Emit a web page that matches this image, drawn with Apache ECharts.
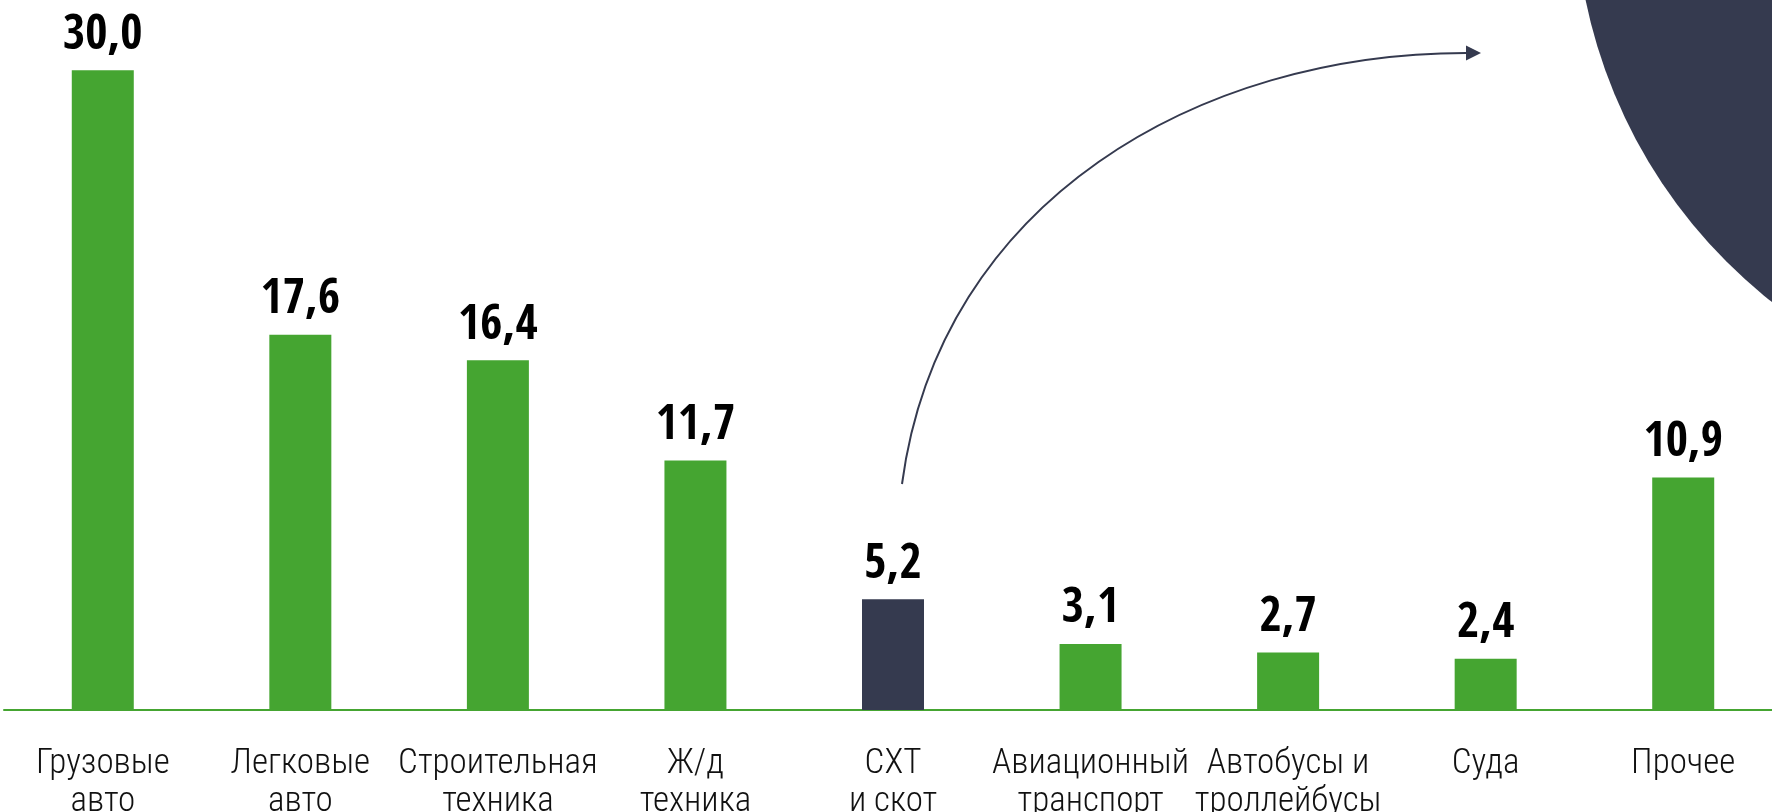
<!DOCTYPE html>
<html>
<head>
<meta charset="utf-8">
<script src="https://cdn.jsdelivr.net/npm/echarts@6/dist/echarts.min.js"></script>
<style>
  html, body { margin: 0; padding: 0; background: #fff; }
  #chart { width: 1772px; height: 812px; }
</style>
</head>
<body>
<div id="chart"></div>
<script>
const categories = [
  'Грузовые\nавто',
  'Легковые\nавто',
  'Строительная\nтехника',
  'Ж/д\nтехника',
  'СХТ\nи скот',
  'Авиационный\nтранспорт',
  'Автобусы и\nтроллейбусы',
  'Суда',
  'Прочее'
]
const values = [30.0, 17.6, 16.4, 11.7, 5.2, 3.1, 2.7, 2.4, 10.9]
const highlightIndex = 4

const GREEN = '#45a531'
const NAVY = '#353a4f'

const chart = echarts.init(document.getElementById('chart'))

const option = {
  backgroundColor: '#fff',
  animation: false,
  grid: { left: 4, top: 0, width: 1778, height: 710, outerBoundsMode: 'none', containLabel: false },
  xAxis: {
    type: 'category',
    data: categories,
    axisLine: { show: true, lineStyle: { color: GREEN, width: 2 } },
    axisTick: { show: false },
    axisLabel: {
      interval: 0,
      margin: 35,
      fontFamily: '"Roboto Condensed", "DejaVu Sans Condensed", sans-serif',
      fontWeight: 300,
      fontSize: 35,
      lineHeight: 38,
      color: '#111',
      align: 'center'
    }
  },
  yAxis: {
    type: 'value',
    min: 0,
    max: 33.3,
    show: false,
    splitLine: { show: false }
  },
  series: [
    {
      type: 'bar',
      data: values,
      barWidth: 62,
      itemStyle: {
        color: (p) => (p.dataIndex === highlightIndex ? NAVY : GREEN)
      },
      label: {
        show: true,
        position: 'top',
        distance: 10,
        fontFamily: '"Open Sans Condensed", "Roboto Condensed", sans-serif',
        fontWeight: 'bold',
        fontSize: 48,
        color: '#000',
        formatter: (p) => p.value.toFixed(1).replace('.', ',')
      }
    }
  ]
}

chart.setOption(option)

// decorations: dark circle top right and arrow leaving the highlighted bar
const start = chart.convertToPixel({ seriesIndex: 0 }, [highlightIndex, 10.6])
const sx = start[0] + 9
const sy = start[1]
const ex = 1466
const ey = 53

chart.setOption({
  graphic: [
    {
      type: 'circle',
      shape: { cx: 2092, cy: -104, r: 517 },
      style: { fill: NAVY },
      z: 0
    },
    {
      type: 'bezierCurve',
      shape: {
        x1: sx, y1: sy,
        cpx1: sx + 38, cpy1: 200,
        cpx2: 1200, cpy2: ey,
        x2: ex, y2: ey
      },
      style: { stroke: NAVY, lineWidth: 2, fill: null },
      z: 10
    },
    {
      type: 'polygon',
      shape: { points: [[ex, ey - 7.5], [ex + 15, ey], [ex, ey + 7.5]] },
      style: { fill: NAVY },
      z: 10
    }
  ]
})
</script>
</body>
</html>
